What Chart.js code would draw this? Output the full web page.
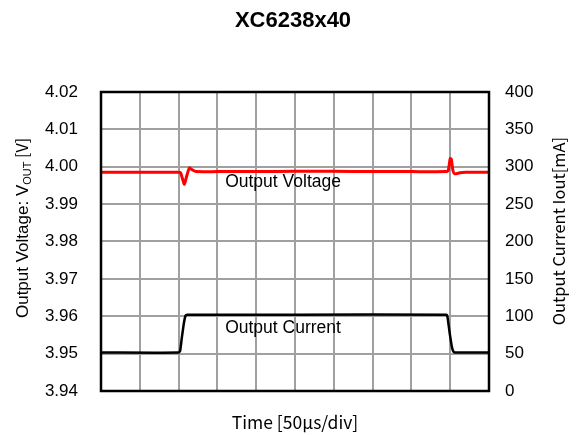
<!DOCTYPE html>
<html>
<head>
<meta charset="utf-8">
<script src="https://cdn.jsdelivr.net/npm/chart.js@4"></script>
<style>
html,body{margin:0;padding:0;background:#fff;}
#wrap{width:584px;height:435px;}
</style>
</head>
<body>
<div id="wrap"><canvas id="c" width="584" height="435"></canvas></div>
<script>
const chartTitle = "XC6238x40";
const xTitle = "Time [50μs/div]";
const leftTitleMain = "Output Voltage: V";
const leftTitleSub = "OUT";
const leftTitleEnd = " [V]";
const rightTitle = "Output Current Iout[mA]";
const voltageLabel = "Output Voltage";
const currentLabel = "Output Current";

// time in divisions (50 µs/div)
const voltageTime = [0, 1.0, 2.0, 2.05, 2.10, 2.15, 2.20, 2.28, 2.35, 2.45, 3.0, 4.0, 5.0, 6.0, 7.0, 8.0, 8.9, 8.95, 9.0, 9.03, 9.07, 9.12, 9.25, 9.4, 10];
const voltageValues = [3.9985, 3.9985, 3.9985, 3.9984, 3.9968, 3.9953, 3.9972, 3.9997, 3.9992, 3.9987, 3.9987, 3.9987, 3.9988, 3.9988, 3.9987, 3.9987, 3.9987, 3.9990, 4.0022, 4.0020, 3.9990, 3.9981, 3.9984, 3.9985, 3.9985];

const currentTime = [0, 2.0, 2.04, 2.08, 2.14, 2.18, 2.22, 5.0, 8.9, 8.93, 8.98, 9.04, 9.08, 9.12, 10];
const currentValues = [51.5, 51.5, 54, 70, 92, 101, 102, 102, 102, 99, 80, 60, 53, 51.5, 51.5];

const voltageTicks = [3.94, 3.95, 3.96, 3.97, 3.98, 3.99, 4.00, 4.01, 4.02];
const currentTicks = [0, 50, 100, 150, 200, 250, 300, 350, 400];

const FONT = "'Liberation Sans', Arial, sans-serif";
const JFONT = "'Noto Sans CJK JP', 'Liberation Sans', sans-serif";

const decor = {
  id: 'decor',
  afterDraw(chart) {
    const ctx = chart.ctx;
    const a = chart.chartArea;
    ctx.save();
    // frame
    ctx.strokeStyle = '#000';
    ctx.lineWidth = 2.5;
    ctx.strokeRect(a.left, a.top, a.right - a.left, a.bottom - a.top);
    // title
    ctx.fillStyle = '#000';
    ctx.font = "bold 22px " + FONT;
    ctx.textAlign = 'center';
    ctx.textBaseline = 'middle';
    ctx.fillText(chartTitle, 293, 21);
    // inline labels
    const xs = chart.scales.x, yv = chart.scales.y, yc = chart.scales.y1;
    ctx.font = "17.5px " + FONT;
    ctx.textAlign = 'left';
    ctx.textBaseline = 'alphabetic';
    ctx.fillText(voltageLabel, xs.getPixelForValue(3.2), yv.getPixelForValue(3.9945));
    ctx.fillText(currentLabel, xs.getPixelForValue(3.2), yc.getPixelForValue(78));
    ctx.restore();

    // right axis title (reads bottom to top)
    ctx.save();
    ctx.fillStyle = '#000';
    ctx.translate(559, 231);
    ctx.rotate(-Math.PI / 2);
    ctx.font = "16.5px " + JFONT;
    ctx.textAlign = 'center';
    ctx.textBaseline = 'middle';
    ctx.fillText(rightTitle, 0, 0);
    ctx.restore();

    // left axis title with subscript
    ctx.save();
    ctx.fillStyle = '#000';
    ctx.translate(22, 228);
    ctx.rotate(-Math.PI / 2);
    const f1 = "17px " + FONT, f2 = "11px " + FONT, f3 = "16px " + JFONT;
    ctx.font = f1; const w1 = ctx.measureText(leftTitleMain).width;
    ctx.font = f3; const w3 = ctx.measureText(leftTitleEnd).width;
    ctx.font = f2; const w2 = ctx.measureText(leftTitleSub).width;
    let x0 = -(w1 + w2 + w3) / 2;
    ctx.textAlign = 'left';
    ctx.textBaseline = 'alphabetic';
    ctx.font = f1; ctx.fillText(leftTitleMain, x0, 6);
    ctx.font = f2; ctx.fillText(leftTitleSub, x0 + w1, 9);
    ctx.font = f3; ctx.fillText(leftTitleEnd, x0 + w1 + w2, 6);
    ctx.restore();
  }
};

new Chart(document.getElementById('c'), {
  type: 'line',
  data: {
    datasets: [
      {
        label: voltageLabel,
        data: voltageTime.map((t, i) => ({x: t, y: voltageValues[i]})),
        borderColor: '#ff0000',
        borderWidth: 3,
        pointRadius: 0,
        tension: 0.2,
        yAxisID: 'y'
      },
      {
        label: currentLabel,
        data: currentTime.map((t, i) => ({x: t, y: currentValues[i]})),
        borderColor: '#000000',
        borderWidth: 2.5,
        pointRadius: 0,
        tension: 0.2,
        yAxisID: 'y1'
      }
    ]
  },
  options: {
    responsive: false,
    animation: false,
    layout: {padding: {top: 92, left: 0, right: 0, bottom: 0}},
    plugins: {legend: {display: false}, title: {display: false}, tooltip: {enabled: false}},
    scales: {
      x: {
        type: 'linear', min: 0, max: 10,
        ticks: {display: false, stepSize: 1},
        grid: {color: '#a0a0a0', lineWidth: 2, drawTicks: false},
        border: {display: false},
        title: {display: true, text: xTitle, color: '#000', font: {family: JFONT, size: 17.5}, padding: {top: 0, bottom: 2}},
        afterFit(s) { s.height = 44; }
      },
      y: {
        position: 'left', min: 3.94, max: 4.02,
        afterBuildTicks(s) { s.ticks = voltageTicks.map(v => ({value: v})); },
        ticks: {color: '#000', padding: 23, font: {family: FONT, size: 17}, callback: v => Number(v).toFixed(2)},
        grid: {color: '#a0a0a0', lineWidth: 2, drawTicks: false},
        border: {display: false},
        afterFit(s) { s.width = 101; }
      },
      y1: {
        position: 'right', min: 0, max: 400,
        afterBuildTicks(s) { s.ticks = currentTicks.map(v => ({value: v})); },
        ticks: {color: '#000', padding: 16, font: {family: FONT, size: 17}},
        grid: {display: false, drawTicks: false},
        border: {display: false},
        afterFit(s) { s.width = 95; }
      }
    }
  },
  plugins: [decor]
});
</script>
</body>
</html>
